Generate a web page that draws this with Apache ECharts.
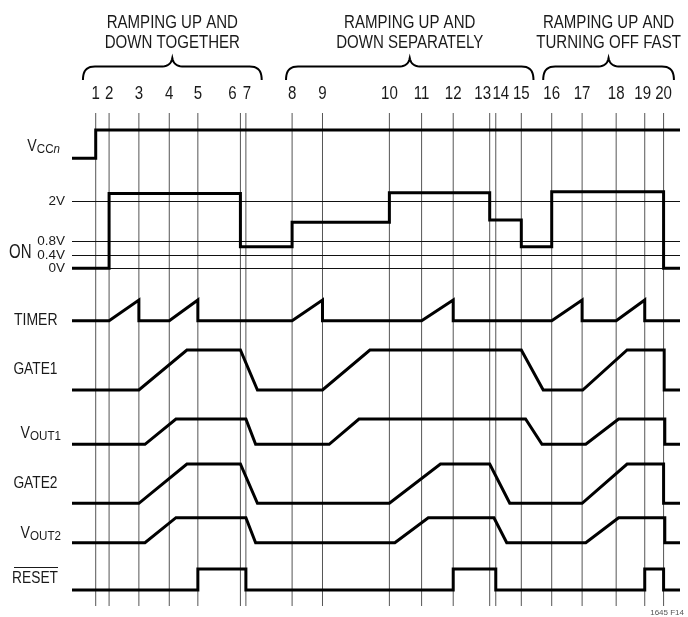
<!DOCTYPE html>
<html><head><meta charset="utf-8">
<script src="https://cdn.jsdelivr.net/npm/echarts@6/dist/echarts.min.js"></script>
<style>html,body{margin:0;padding:0;background:#fff}#c{width:688px;height:617px}</style>
</head><body><div id="c"></div>
<script>
// ---- data (time in arbitrary units 0..100) ----
const eventTimes = [3.9, 6.1, 11.0, 16.0, 20.7, 27.7, 28.6, 36.2, 41.2, 52.2, 57.5, 62.7, 68.7, 69.7, 73.9, 78.9, 83.9, 89.5, 94.2, 97.3];
const eventNames = ['1','2','3','4','5','6','7','8','9','10','11','12','13','14','15','16','17','18','19','20'];
const phaseTitles = ['RAMPING UP AND\nDOWN TOGETHER', 'RAMPING UP AND\nDOWN SEPARATELY', 'RAMPING UP AND\nTURNING OFF FAST'];
const phaseStart = [1.8, 35.2, 77.5];
const phaseEnd = [31.2, 75.9, 99.0];
const onRefLevels = [2, 0.8, 0.4, 0];
const onRefLabels = ['2V', '0.8V', '0.4V', '0V'];

const vccWave = [[0,0],[3.9,0],[3.9,1],[100,1]];
const onWave = [[0,0],[6.1,0],[6.1,2.25],[27.7,2.25],[27.7,0.65],[36.2,0.65],[36.2,1.38],[52.2,1.38],[52.2,2.27],[68.7,2.27],[68.7,1.45],[73.9,1.45],[73.9,0.65],[78.9,0.65],[78.9,2.3],[97.3,2.3],[97.3,0],[100,0]];
const timerWave = [[0,0],[6.1,0],[11.0,1],[11.0,0],[16.0,0],[20.7,1],[20.7,0],[36.2,0],[41.2,1],[41.2,0],[57.5,0],[62.7,1],[62.7,0],[78.9,0],[83.9,1],[83.9,0],[89.5,0],[94.2,1],[94.2,0],[100,0]];
const gate1Wave = [[0,0],[11.0,0],[18.9,1],[27.7,1],[30.5,0],[41.2,0],[49.0,1],[73.9,1],[77.5,0],[84.0,0],[91.3,1],[97.4,1],[97.4,0],[100,0]];
const vout1Wave = [[0,0],[12.0,0],[17.1,1],[28.6,1],[30.2,0],[42.3,0],[47.2,1],[74.6,1],[77.3,0],[84.5,0],[89.9,1],[97.5,1],[97.5,0],[100,0]];
const gate2Wave = [[0,0],[11.0,0],[18.9,1],[27.7,1],[30.5,0],[52.2,0],[60.6,1],[68.7,1],[72.0,0],[83.9,0],[91.3,1],[97.3,1],[97.3,0],[100,0]];
const vout2Wave = [[0,0],[12.0,0],[17.1,1],[28.6,1],[30.2,0],[53.1,0],[58.6,1],[69.4,1],[71.5,0],[84.5,0],[89.9,1],[97.5,1],[97.5,0],[100,0]];
const resetWave = [[0,0],[20.7,0],[20.7,1],[28.6,1],[28.6,0],[62.7,0],[62.7,1],[69.7,1],[69.7,0],[94.2,0],[94.2,1],[97.3,1],[97.3,0],[100,0]];

// ---- layout / style ----
const FONT = "'Liberation Sans', Arial, sans-serif";
const INK = '#1a1a1a';
const SX = 0.86;
const labelNudge = {5: -8, 6: 1, 12: -7, 13: 5, 18: -2};
const rows = [
  {data: vccWave,   top: 130,   height: 28.3, yMax: 1},
  {data: onWave,    top: 188.4, height: 79.9, yMax: 2.4},
  {data: timerWave, top: 300,   height: 20.7, yMax: 1},
  {data: gate1Wave, top: 350,   height: 40,   yMax: 1},
  {data: vout1Wave, top: 419,   height: 25.3, yMax: 1},
  {data: gate2Wave, top: 464,   height: 39.3, yMax: 1},
  {data: vout2Wave, top: 517.7, height: 25,   yMax: 1},
  {data: resetWave, top: 569,   height: 21,   yMax: 1}
];

const grid = [{left: 72, right: 8, top: 113, bottom: 11}];
const xAxis = [{type: 'value', gridIndex: 0, min: 0, max: 100, show: false}];
const yAxis = [{type: 'value', gridIndex: 0, min: 0, max: 1, show: false}];
rows.forEach((r, k) => {
  grid.push({left: 72, right: 8, top: r.top, height: r.height});
  xAxis.push({type: 'value', gridIndex: k + 1, min: 0, max: 100, show: false});
  yAxis.push({type: 'value', gridIndex: k + 1, min: 0, max: r.yMax, show: false});
});

function bez(p0, p1, p2, p3, n) {
  const out = [];
  for (let j = 0; j <= n; j++) {
    const t = j / n, u = 1 - t;
    out.push([
      u*u*u*p0[0] + 3*u*u*t*p1[0] + 3*u*t*t*p2[0] + t*t*t*p3[0],
      u*u*u*p0[1] + 3*u*u*t*p1[1] + 3*u*t*t*p2[1] + t*t*t*p3[1]
    ]);
  }
  return out;
}

const series = [];
// event lines + numbers
series.push({
  type: 'custom', xAxisIndex: 0, yAxisIndex: 0, clip: false, silent: true, z: 1,
  data: eventTimes.map((t, i) => [t, i]),
  renderItem: (params, api) => {
    const i = api.value(1);
    const top = api.coord([api.value(0), 1]);
    const bot = api.coord([api.value(0), 0]);
    return {type: 'group', children: [
      {type: 'line', shape: {x1: top[0], y1: top[1], x2: bot[0], y2: bot[1]}, style: {stroke: '#555', lineWidth: 1}},
      {type: 'text', x: top[0] + (labelNudge[i] || 0), y: top[1] - 19, scaleX: SX,
        style: {text: eventNames[i], x: 0, y: 0, align: 'center', verticalAlign: 'middle', textAlign: 'center', textVerticalAlign: 'middle',
          fontSize: 17.5, fontFamily: FONT, fill: INK}}
    ]};
  }
});
// phase braces + titles
series.push({
  type: 'custom', xAxisIndex: 0, yAxisIndex: 0, clip: false, silent: true, z: 1,
  data: phaseStart.map((s, i) => [s, phaseEnd[i], i]),
  renderItem: (params, api) => {
    const i = api.value(2);
    const p0 = api.coord([api.value(0), 1]);
    const p1 = api.coord([api.value(1), 1]);
    const top = p0[1];
    const x0 = p0[0], x1 = p1[0], xc = (x0 + x1) / 2;
    const yb = top - 33, yf = top - 46.5, yt = top - 55;
    const pts = [].concat(
      bez([x0, yb], [x0, yf + 5], [x0 + 3, yf], [x0 + 12, yf], 10),
      bez([xc - 12, yf], [xc - 4, yf], [xc - 1, yf - 3], [xc, yt], 10),
      bez([xc, yt], [xc + 1, yf - 3], [xc + 4, yf], [xc + 12, yf], 10),
      bez([x1 - 12, yf], [x1 - 3, yf], [x1, yf + 5], [x1, yb], 10)
    );
    return {type: 'group', children: [
      {type: 'polyline', shape: {points: pts}, style: {stroke: '#000', lineWidth: 2, fill: null}},
      {type: 'text', x: xc, y: top - 80, scaleX: SX,
        style: {text: phaseTitles[i], x: 0, y: 0, align: 'center', verticalAlign: 'middle', textAlign: 'center', textVerticalAlign: 'middle',
          fontSize: 17.5, lineHeight: 20.5, fontFamily: FONT, fill: INK}}
    ]};
  }
});
// signals
rows.forEach((r, k) => {
  const s = {
    type: 'line', xAxisIndex: k + 1, yAxisIndex: k + 1, data: r.data, symbol: 'none',
    clip: false, silent: true, z: 5,
    lineStyle: {color: '#000', width: 3, join: 'miter', cap: 'butt'}
  };
  if (k === 1) {
    s.markLine = {
      silent: true, symbol: ['none', 'none'], animation: false,
      lineStyle: {color: '#111', width: 1, type: 'solid'},
      label: {show: true, position: 'start', formatter: '{b}', distance: 7, fontSize: 13.5, fontFamily: FONT, color: INK},
      data: onRefLevels.map((v, i) => ({yAxis: v, name: onRefLabels[i]}))
    };
  }
  series.push(s);
});

function lbl(text, x, y, size, align, extra) {
  return Object.assign({type: 'text', x: x, y: y, scaleX: SX,
    style: {text: text, x: 0, y: 0, align: align || 'right', textAlign: align || 'right', verticalAlign: 'middle', textVerticalAlign: 'middle',
      fontSize: size, fontFamily: FONT, fill: INK}}, extra || {});
}
function subLbl(main, sub, x, y, italicTail) {
  const rich = {
    v: {fontSize: 16.5, fontFamily: FONT, fill: INK, color: INK},
    s: {fontSize: 13.5, fontFamily: FONT, fill: INK, color: INK, padding: [7, 0, 0, 0]},
    i: {fontSize: 13.5, fontFamily: FONT, fill: INK, color: INK, fontStyle: 'italic', padding: [7, 0, 0, 0]}
  };
  const t = '{v|' + main + '}{s|' + sub + '}' + (italicTail ? '{i|' + italicTail + '}' : '');
  return {type: 'text', x: x, y: y, scaleX: SX,
    style: {text: t, rich: rich, x: 0, y: 0, align: 'right', textAlign: 'right', verticalAlign: 'middle', textVerticalAlign: 'middle'}};
}

const graphic = [
  subLbl('V', 'CC', 60, 146, 'n'),
  lbl('ON', 9, 252, 20, 'left', {scaleX: 0.75}),
  lbl('TIMER', 57.5, 321, 16.3),
  lbl('GATE1', 57.5, 370, 16),
  subLbl('V', 'OUT1', 61, 433),
  lbl('GATE2', 57.5, 484, 16),
  subLbl('V', 'OUT2', 61, 533),
  lbl('RESET', 58, 579, 16),
  {type: 'line', shape: {x1: 14, y1: 567.5, x2: 58, y2: 567.5}, style: {stroke: INK, lineWidth: 1.2}},
  {type: 'text', x: 684, y: 613, style: {text: '1645 F14', x: 0, y: 0, align: 'right', textAlign: 'right', verticalAlign: 'middle', textVerticalAlign: 'middle', fontSize: 8, fontFamily: FONT, fill: '#555'}}
];

const chart = echarts.init(document.getElementById('c'), null, {renderer: 'canvas'});
chart.setOption({
  animation: false,
  backgroundColor: '#fff',
  grid: grid, xAxis: xAxis, yAxis: yAxis,
  series: series,
  graphic: {elements: graphic}
});
</script></body></html>
